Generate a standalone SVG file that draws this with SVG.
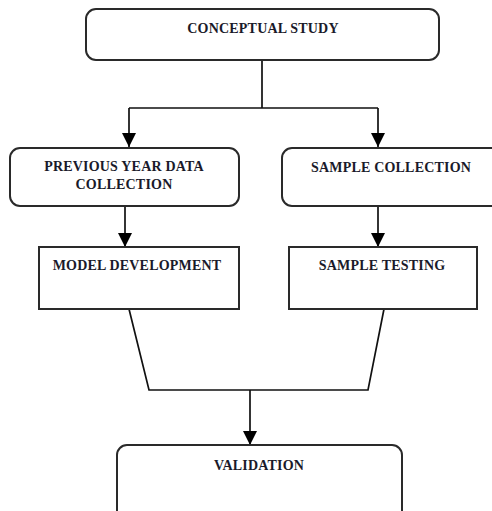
<svg xmlns="http://www.w3.org/2000/svg" width="492" height="511" viewBox="0 0 492 511">
<defs>
<marker id="arr" viewBox="0 0 14 14" refX="14" refY="7" markerWidth="14" markerHeight="14" markerUnits="userSpaceOnUse" orient="auto">
<path d="M0,0 L14,7 L0,14 Z" fill="#000"/>
</marker>
</defs>
<style>
.box{fill:#fff;stroke:#2a2a2a;stroke-width:2}
.ln{fill:none;stroke:#111;stroke-width:1.7}
text{font-family:"Liberation Serif","Times New Roman",serif;font-weight:bold;font-size:14px;letter-spacing:0.2px;fill:#1a1a2a;text-anchor:middle}
</style>
<rect width="492" height="511" fill="#fff"/>
<g id="connectors">
<path class="ln" d="M262,60 V108 M129,108 H378"/>
<path class="ln" d="M129,108 V147" marker-end="url(#arr)"/>
<path class="ln" d="M378,108 V147" marker-end="url(#arr)"/>
<path class="ln" d="M125,206 V247" marker-end="url(#arr)"/>
<path class="ln" d="M378,206 V247" marker-end="url(#arr)"/>
<path class="ln" d="M129,309 L149,390 H368 L384,309"/>
<path class="ln" d="M250,390 V445" marker-end="url(#arr)"/>
</g>
<g id="conceptual">
<rect class="box" x="86" y="9" width="353" height="51" rx="10"/>
<text x="263" y="33">CONCEPTUAL STUDY</text>
</g>
<g id="previous">
<rect class="box" x="10" y="148" width="229" height="58" rx="10"/>
<text x="124" y="171">PREVIOUS YEAR DATA</text>
<text x="124" y="189">COLLECTION</text>
</g>
<g id="samplecollection">
<rect class="box" x="282" y="148" width="230" height="58" rx="10"/>
<text x="391" y="172">SAMPLE COLLECTION</text>
</g>
<g id="model">
<rect class="box" x="39" y="247" width="200" height="62"/>
<text x="137" y="270">MODEL DEVELOPMENT</text>
</g>
<g id="testing">
<rect class="box" x="289" y="247" width="188" height="62"/>
<text x="382" y="270">SAMPLE TESTING</text>
</g>
<g id="validation">
<rect class="box" x="117" y="445" width="285" height="75" rx="10"/>
<text x="259" y="470">VALIDATION</text>
</g>
</svg>
